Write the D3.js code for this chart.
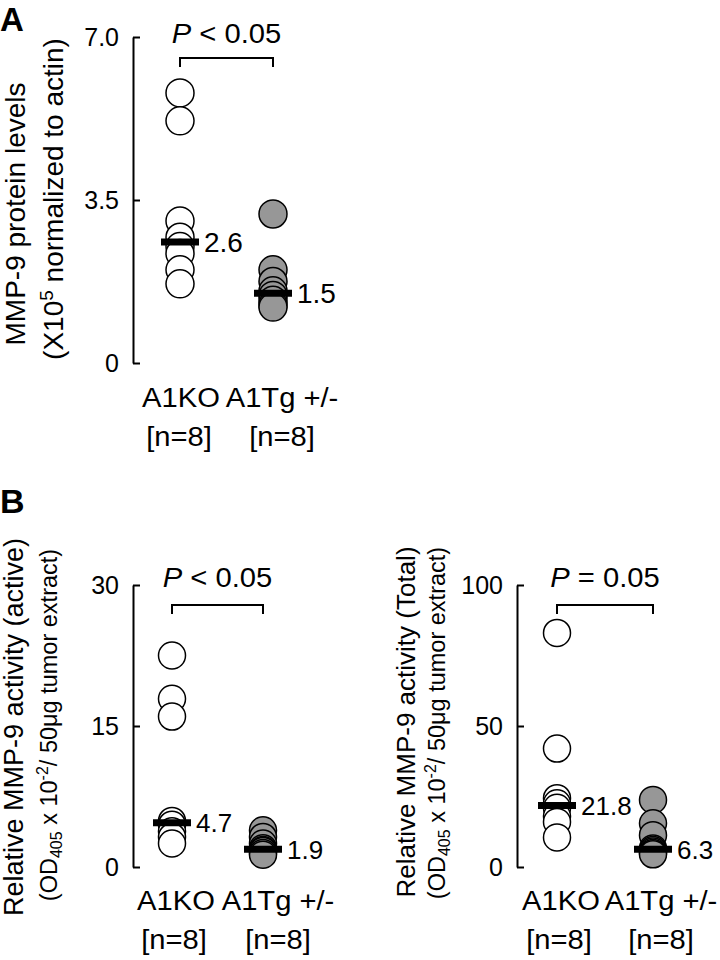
<!DOCTYPE html>
<html>
<head>
<meta charset="utf-8">
<script src="https://cdn.jsdelivr.net/npm/d3@7"></script>
<style>
  body { margin: 0; background: #fff; }
  svg { display: block; font-family: "Liberation Sans", Arial, sans-serif; }
</style>
</head>
<body>
<svg id="chart" width="720" height="960"></svg>
<script>
// Groups and sample sizes
const groups = ["A1KO", "A1Tg +/-"];
const groupN = ["[n=8]", "[n=8]"];

// Panel A: MMP-9 protein levels
const proteinKO = [5.8, 5.2, 3.05, 2.7, 2.5, 2.35, 2.0, 1.7];
const proteinTg = [3.2, 2.0, 1.75, 1.55, 1.45, 1.35, 1.25, 1.2];
const proteinTicks = [0, 3.5, 7.0];
const proteinTickLabels = ["0", "3.5", "7.0"];
const proteinMedianLabels = ["2.6", "1.5"];

// Panel B left: active MMP-9 activity
const activeKO = [22.5, 17.9, 16.0, 4.9, 4.5, 3.8, 3.2, 2.5];
const activeTg = [3.9, 3.2, 2.5, 2.0, 1.8, 1.7, 1.5, 1.3];
const activeTicks = [0, 15, 30];
const activeMedianLabels = ["4.7", "1.9"];

// Panel B right: total MMP-9 activity
const totalKO = [83, 42, 24.4, 22.6, 21, 18, 16, 10.5];
const totalTg = [23.8, 15.5, 11.3, 6.6, 6.0, 5.5, 5.0, 4.5];
const totalTicks = [0, 50, 100];
const totalMedianLabels = ["21.8", "6.3"];

const pLabels = [["P", " < 0.05"], ["P", " < 0.05"], ["P", " = 0.05"]];

const svg = d3.select("#chart");

// horizontal texts in the figure are a bit wider than plain Arial
const STRETCH = 1.08;
function wideText(parent, x, y, size) {
  return parent.append("text")
    .attr("transform", `translate(${x},${y}) scale(${STRETCH},1)`)
    .attr("text-anchor", "middle")
    .style("font-size", size + "px");
}

// panel letters
svg.append("text").attr("x", 0).attr("y", 31)
  .style("font-size", "33px").style("font-weight", "bold").text("A");
svg.append("text").attr("x", 0).attr("y", 513)
  .style("font-size", "34px").style("font-weight", "bold").text("B");

function drawPanel(p) {
  const g = svg.append("g");

  const y = d3.scaleLinear().domain([0, p.max]).range([p.yBottom, p.yTop]);
  const x = d3.scalePoint().domain(groups).range([p.xKO, p.xTg]);

  // y axis, ticks pointing inward
  const axis = g.append("g")
    .attr("transform", `translate(${p.axisX},0)`)
    .call(d3.axisLeft(y)
      .tickValues(p.ticks)
      .tickFormat((d, i) => p.tickLabels ? p.tickLabels[i] : d)
      .tickSizeInner(-7)
      .tickSizeOuter(0)
      .tickPadding(14));
  axis.selectAll("path, line").attr("stroke", "#000").attr("stroke-width", 2);
  axis.selectAll("text")
    .attr("fill", "#000")
    .style("font-family", "'Liberation Sans', Arial, sans-serif")
    .style("font-size", p.tickFont + "px");

  // dots
  const series = [p.ko, p.tg];
  series.forEach((vals, gi) => {
    g.selectAll(null)
      .data(vals)
      .enter()
      .append("circle")
      .attr("cx", x(groups[gi]))
      .attr("cy", (d) => y(d))
      .attr("r", p.r)
      .attr("fill", gi === 0 ? "#fff" : "#979797")
      .attr("stroke", "#000")
      .attr("stroke-width", 1.5);
  });

  // median bars + labels
  series.forEach((vals, gi) => {
    const m = d3.median(vals);
    const cx = x(groups[gi]);
    g.append("line")
      .attr("x1", cx - 19).attr("x2", cx + 19)
      .attr("y1", y(m)).attr("y2", y(m))
      .attr("stroke", "#000").attr("stroke-width", 7);
    g.append("text")
      .attr("x", cx + 24)
      .attr("y", y(m))
      .attr("dy", "0.36em")
      .style("font-size", p.valueFont + "px")
      .text(p.medianLabels[gi]);
  });

  // significance bracket
  const bx0 = x(groups[0]), bx1 = x(groups[1]);
  g.append("path")
    .attr("d", `M${bx0},${p.bracketY + 9}V${p.bracketY}H${bx1}V${p.bracketY + 9}`)
    .attr("fill", "none").attr("stroke", "#000").attr("stroke-width", 2);
  const pt = wideText(g, (bx0 + bx1) / 2, p.pY, 27);
  pt.append("tspan").style("font-style", "italic").text(p.pLabel[0]);
  pt.append("tspan").text(p.pLabel[1]);

  // group labels
  groups.forEach((name, gi) => {
    const lx = x(name) + p.labelShift[gi];
    wideText(g, lx, p.labelY, 27).text(name);
    wideText(g, lx + (gi === 0 ? -2 : 0), p.labelY + 39, 27).text(groupN[gi]);
  });

  // axis titles (rotated)
  g.append("text")
    .attr("transform", `translate(${p.title1X},${p.title1Y}) rotate(-90)`)
    .attr("text-anchor", "middle")
    .style("font-size", p.title1Font + "px")
    .text(p.title1);
  const t2 = g.append("text")
    .attr("transform", `translate(${p.title2X},${p.title2Y}) rotate(-90)`)
    .attr("text-anchor", "middle")
    .style("font-size", p.title2Font + "px");
  p.title2Parts.forEach((part) => {
    const s = t2.append("tspan").text(part.t);
    if (part.dy) s.attr("dy", part.dy);
    if (part.size) s.style("font-size", part.size + "px");
  });
}

const activityTitle2 = [
  { t: "(OD" },
  { t: "405", size: 16, dy: 5 },
  { t: " x 10", dy: -5 },
  { t: "-2", size: 16, dy: -9 },
  { t: "/ 50\u03BCg tumor extract)", dy: 9 }
];

drawPanel({
  ko: proteinKO, tg: proteinTg, max: 7,
  ticks: proteinTicks, tickLabels: proteinTickLabels, medianLabels: proteinMedianLabels,
  axisX: 133, yTop: 37, yBottom: 363, xKO: 180, xTg: 273, r: 14,
  tickFont: 25, valueFont: 28,
  bracketY: 58, pY: 43, pLabel: pLabels[0],
  labelY: 407, labelShift: [1, 9],
  title1: "MMP-9 protein levels", title1X: 25, title1Y: 214, title1Font: 28,
  title2X: 63, title2Y: 199, title2Font: 28,
  title2Parts: [
    { t: "(X10" },
    { t: "5", size: 19, dy: -10 },
    { t: " normalized to actin)", dy: 10 }
  ]
});

drawPanel({
  ko: activeKO, tg: activeTg, max: 30,
  ticks: activeTicks, medianLabels: activeMedianLabels,
  axisX: 133, yTop: 585, yBottom: 867, xKO: 172, xTg: 263, r: 13.5,
  tickFont: 25, valueFont: 26,
  bracketY: 605, pY: 587, pLabel: pLabels[1],
  labelY: 910, labelShift: [4, 15],
  title1: "Relative MMP-9 activity (active)", title1X: 23, title1Y: 727, title1Font: 27,
  title2X: 57, title2Y: 725, title2Font: 23.5,
  title2Parts: activityTitle2
});

drawPanel({
  ko: totalKO, tg: totalTg, max: 100,
  ticks: totalTicks, medianLabels: totalMedianLabels,
  axisX: 517, yTop: 585, yBottom: 867, xKO: 557, xTg: 653, r: 13.5,
  tickFont: 25, valueFont: 26,
  bracketY: 605, pY: 587, pLabel: pLabels[2],
  labelY: 910, labelShift: [4, 8],
  title1: "Relative MMP-9 activity (Total)", title1X: 415, title1Y: 722, title1Font: 26,
  title2X: 445, title2Y: 723, title2Font: 23.5,
  title2Parts: activityTitle2
});
</script>
</body>
</html>
